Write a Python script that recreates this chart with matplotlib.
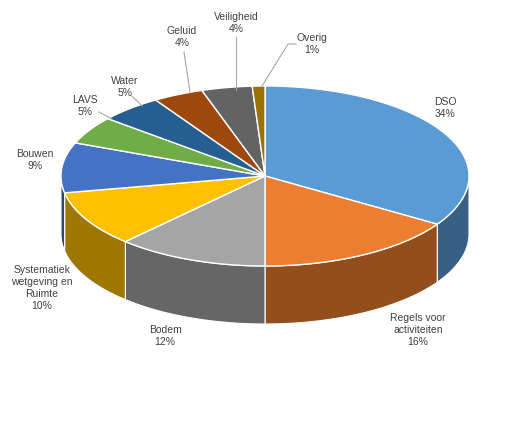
import numpy as np
import matplotlib
matplotlib.use("Agg")
import matplotlib.pyplot as plt
from matplotlib.patches import Polygon
import matplotlib.colors as mc

categories = ["DSO", "Regels voor\nactiviteiten", "Bodem", "Systematiek\nwetgeving en\nRuimte",
              "Bouwen", "LAVS", "Water", "Geluid", "Veiligheid", "Overig"]
values = [34, 16, 12, 10, 9, 5, 5, 4, 4, 1]
colors = ["#5B9BD5", "#ED7D31", "#A5A5A5", "#FFC000", "#4472C4", "#70AD47",
          "#255E91", "#9E480E", "#636363", "#997300"]

# layout (pixel space)
cx, cy, rx, ry, depth = 265, 176, 204, 90, 58
label_pos = [(445, 108), (418, 330), (165, 336), (42, 288), (35, 160), (85, 106),
             (125, 87), (182, 37), (236, 23), (312, 44)]
leaders = {7: [(184, 52), (190, 92)], 8: [(236, 37), (236, 90)],
           9: [(296, 44), (288, 44), (262, 86)], 6: [(132, 96), (142, 106)],
           5: [(99, 112), (112, 119)]}

fig = plt.figure(figsize=(5.14, 4.26), dpi=100)
ax = fig.add_axes([0, 0, 1, 1])
ax.set_xlim(0, 514); ax.set_ylim(426, 0); ax.axis("off")

def pt(t, dy=0):
    return cx + rx * np.cos(np.radians(t)), cy - ry * np.sin(np.radians(t)) + dy

total = sum(values)
start = 90.0
spans = []
for v in values:
    end = start - 360.0 * v / total
    spans.append((start, end))
    start = end

def darker(c, f):
    r, g, b = mc.to_rgb(c)
    return (r * f, g * f, b * f)

# sides (front half: angles in (-180, 0) mod 360)
for (s, e), c in zip(spans, colors):
    for off in (0, -360, 360):
        a0, a1 = max(e + off, -180), min(s + off, 0)
        if a1 > a0:
            ts = np.linspace(a0, a1, 60)
            top = [pt(t) for t in ts]
            bot = [pt(t, depth) for t in ts[::-1]]
            ax.add_patch(Polygon(top + bot, closed=True, fc=darker(c, 0.62), ec="white", lw=0.8))

# top faces
for (s, e), c in zip(spans, colors):
    ts = np.linspace(s, e, 100)
    poly = [(cx, cy)] + [pt(t) for t in ts]
    ax.add_patch(Polygon(poly, closed=True, fc=c, ec="white", lw=1.0))

for i, (name, v) in enumerate(zip(categories, values)):
    x, y = label_pos[i]
    ax.text(x, y, f"{name}\n{v}%", ha="center", va="center", fontsize=7.5,
            family="Liberation Sans", color="#404040", linespacing=1.25)

for i, pts in leaders.items():
    xs, ys = zip(*pts)
    ax.plot(xs, ys, color="#A6A6A6", lw=0.8)

fig.savefig("out.png", dpi=100)
